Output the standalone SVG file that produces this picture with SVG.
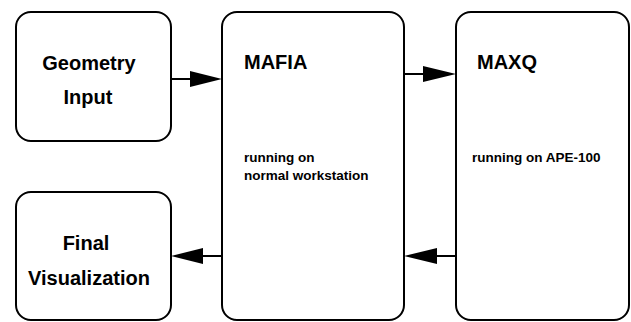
<svg xmlns="http://www.w3.org/2000/svg" width="631" height="322" viewBox="0 0 631 322">
<style>
.box{fill:#fff;stroke:#000;stroke-width:2}
.big{font-family:"Liberation Sans",Arial,sans-serif;font-weight:bold;font-size:20px;fill:#000}
.small{font-family:"Liberation Sans",Arial,sans-serif;font-weight:bold;font-size:13.5px;fill:#000}
.conn{stroke:#000;stroke-width:2;fill:none}
.head{fill:#000;stroke:none}
</style>
<rect width="631" height="322" fill="#fff"/>
<g id="geometry-input">
<rect class="box" x="16" y="12" width="155" height="129" rx="15"/>
<text class="big" x="89" y="70" text-anchor="middle">Geometry</text>
<text class="big" x="88" y="104" text-anchor="middle">Input</text>
</g>
<g id="final-visualization">
<rect class="box" x="16" y="192" width="155" height="128" rx="15"/>
<text class="big" x="86" y="250" text-anchor="middle">Final</text>
<text class="big" x="89" y="285" text-anchor="middle">Visualization</text>
</g>
<g id="mafia">
<rect class="box" x="222" y="12" width="182" height="308" rx="15"/>
<text class="big" x="244" y="69">MAFIA</text>
<text class="small" x="244" y="162">running on</text>
<text class="small" x="244" y="180">normal workstation</text>
</g>
<g id="maxq">
<rect class="box" x="456" y="12" width="173" height="308" rx="15"/>
<text class="big" x="477" y="69">MAXQ</text>
<text class="small" x="472" y="162">running on APE-100</text>
</g>
<g id="connectors">
<line class="conn" x1="171" y1="79" x2="192" y2="79"/>
<polygon class="head" points="190,71 222,79 190,87"/>
<line class="conn" x1="404" y1="74" x2="425" y2="74"/>
<polygon class="head" points="423,66 456,74 423,82"/>
<line class="conn" x1="456" y1="256" x2="435" y2="256"/>
<polygon class="head" points="437,248 404,256 437,264"/>
<line class="conn" x1="222" y1="256" x2="201" y2="256"/>
<polygon class="head" points="203,248 171,256 203,264"/>
</g>
</svg>
